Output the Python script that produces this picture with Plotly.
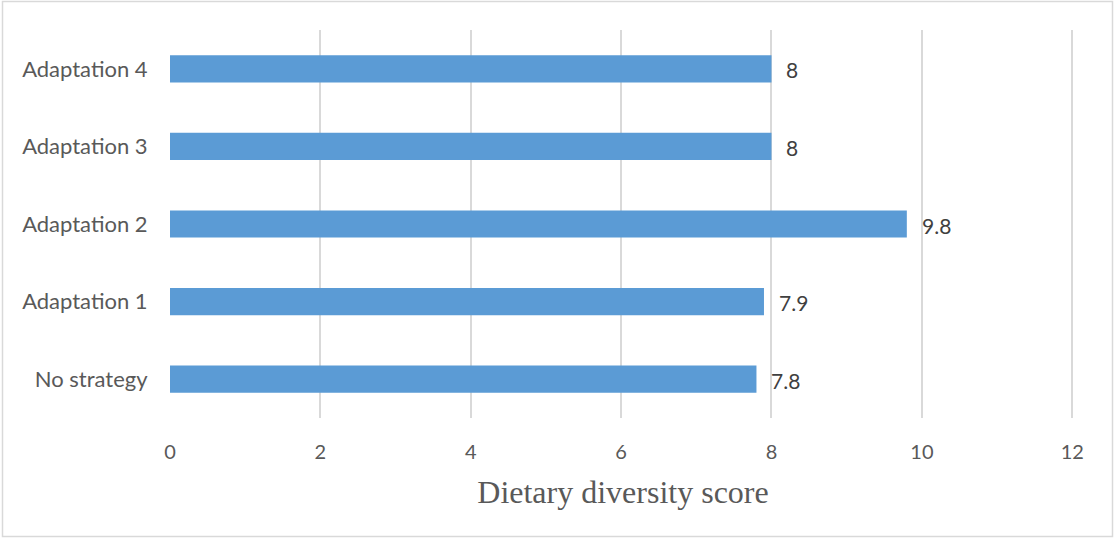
import plotly.graph_objects as go

categories = ["No strategy", "Adaptation 1", "Adaptation 2", "Adaptation 3", "Adaptation 4"]
scores = [7.8, 7.9, 9.8, 8, 8]
labels = ["7.8", "7.9", "9.8", "8", "8"]
x_ticks = [0, 2, 4, 6, 8, 10, 12]

fig = go.Figure()
fig.add_trace(go.Bar(
    x=scores, y=categories, orientation="h",
    marker=dict(color="#5B9BD5", line=dict(width=0)),
    hoverinfo="skip",
))

for v, c, t in zip(scores, categories, labels):
    fig.add_annotation(x=v, y=c, text=t, showarrow=False, xanchor="left",
                       xshift=13, yshift=-1,
                       font=dict(family="Lato", size=21, color="#404040"))

W, H = 1114, 539
ml, mr, mt, mb = 170, 38, 30, 121
pw, ph = W - ml - mr, H - mt - mb

# outer chart border
fig.add_shape(type="rect", xref="paper", yref="paper",
              x0=(2.5 - ml) / pw, x1=(W - 1.5 - ml) / pw,
              y0=-(mb - 2.5) / ph, y1=1 + (mt - 1.5) / ph,
              line=dict(color="#D9D9D9", width=1.5), fillcolor="rgba(0,0,0,0)", layer="below")

fig.update_layout(
    width=W, height=H,
    margin=dict(l=ml, r=mr, t=mt, b=mb),
    paper_bgcolor="white", plot_bgcolor="white",
    bargap=0.65, showlegend=False,
    xaxis=dict(range=[0, 12.05], tickvals=x_ticks, showgrid=True, gridcolor="#D9D9D9",
               gridwidth=1.5, zeroline=False, showline=False,
               ticks="outside", ticklen=16, tickcolor="rgba(0,0,0,0)",
               tickfont=dict(family="Lato", size=20, color="#595959"),
               title=dict(text="Dietary diversity score", standoff=18,
                          font=dict(family="Liberation Serif", size=32, color="#595959"))),
    yaxis=dict(showgrid=False, zeroline=False, showline=False,
               ticks="outside", ticklen=17, tickcolor="rgba(0,0,0,0)",
               tickfont=dict(family="Lato", size=22, color="#595959")),
)

fig.write_html("out.html")
